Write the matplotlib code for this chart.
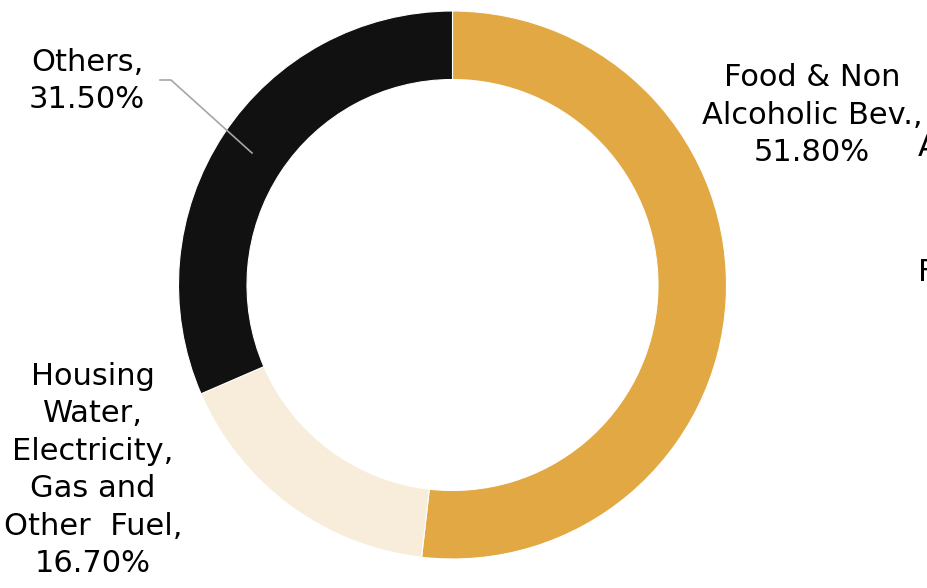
import matplotlib
matplotlib.use("Agg")
import matplotlib.pyplot as plt

categories = ["Food & Non\nAlcoholic Bev.,", "Housing\nWater,\nElectricity,\nGas and\nOther  Fuel,", "Others,"]
values = [51.80, 16.70, 31.50]
colors = ["#E2A843", "#F7EDDA", "#111111"]

W, H = 928, 588
fig = plt.figure(figsize=(W / 100, H / 100), dpi=100)
ax = fig.add_axes([0, 0, 1, 1])

cx, cy, R = 452.5, H - 285, 274
ax.pie(values, colors=colors, startangle=90, counterclock=False,
       center=(cx, cy), radius=R, frame=True,
       wedgeprops=dict(width=R * 0.25, edgecolor="white", linewidth=0.8))
ax.set_xlim(0, W)
ax.set_ylim(0, H)
ax.set_aspect("equal")
ax.axis("off")

fs = 22
ls = 1.37
labels = [f"{c}\n{v:.2f}%" for c, v in zip(categories, values)]
ax.text(812, H - 115, labels[0], ha="center", va="center", fontsize=fs,
        linespacing=ls, family="DejaVu Sans")
ax.text(93, H - 470, labels[1], ha="center", va="center", fontsize=fs,
        linespacing=ls, family="DejaVu Sans")
ax.text(87, H - 81, labels[2], ha="center", va="center", fontsize=fs,
        linespacing=ls, family="DejaVu Sans")

# leader line for Others
ax.plot([160, 171, 252], [H - 80, H - 80, H - 153], color="#A6A6A6", lw=1.2)

# clipped text from neighbouring element at right edge
ax.text(918, H - 147, "A", ha="left", va="center", fontsize=fs, family="DejaVu Sans")
ax.text(918, H - 272, "F", ha="left", va="center", fontsize=fs, family="DejaVu Sans")

fig.savefig("out.png", dpi=100)
